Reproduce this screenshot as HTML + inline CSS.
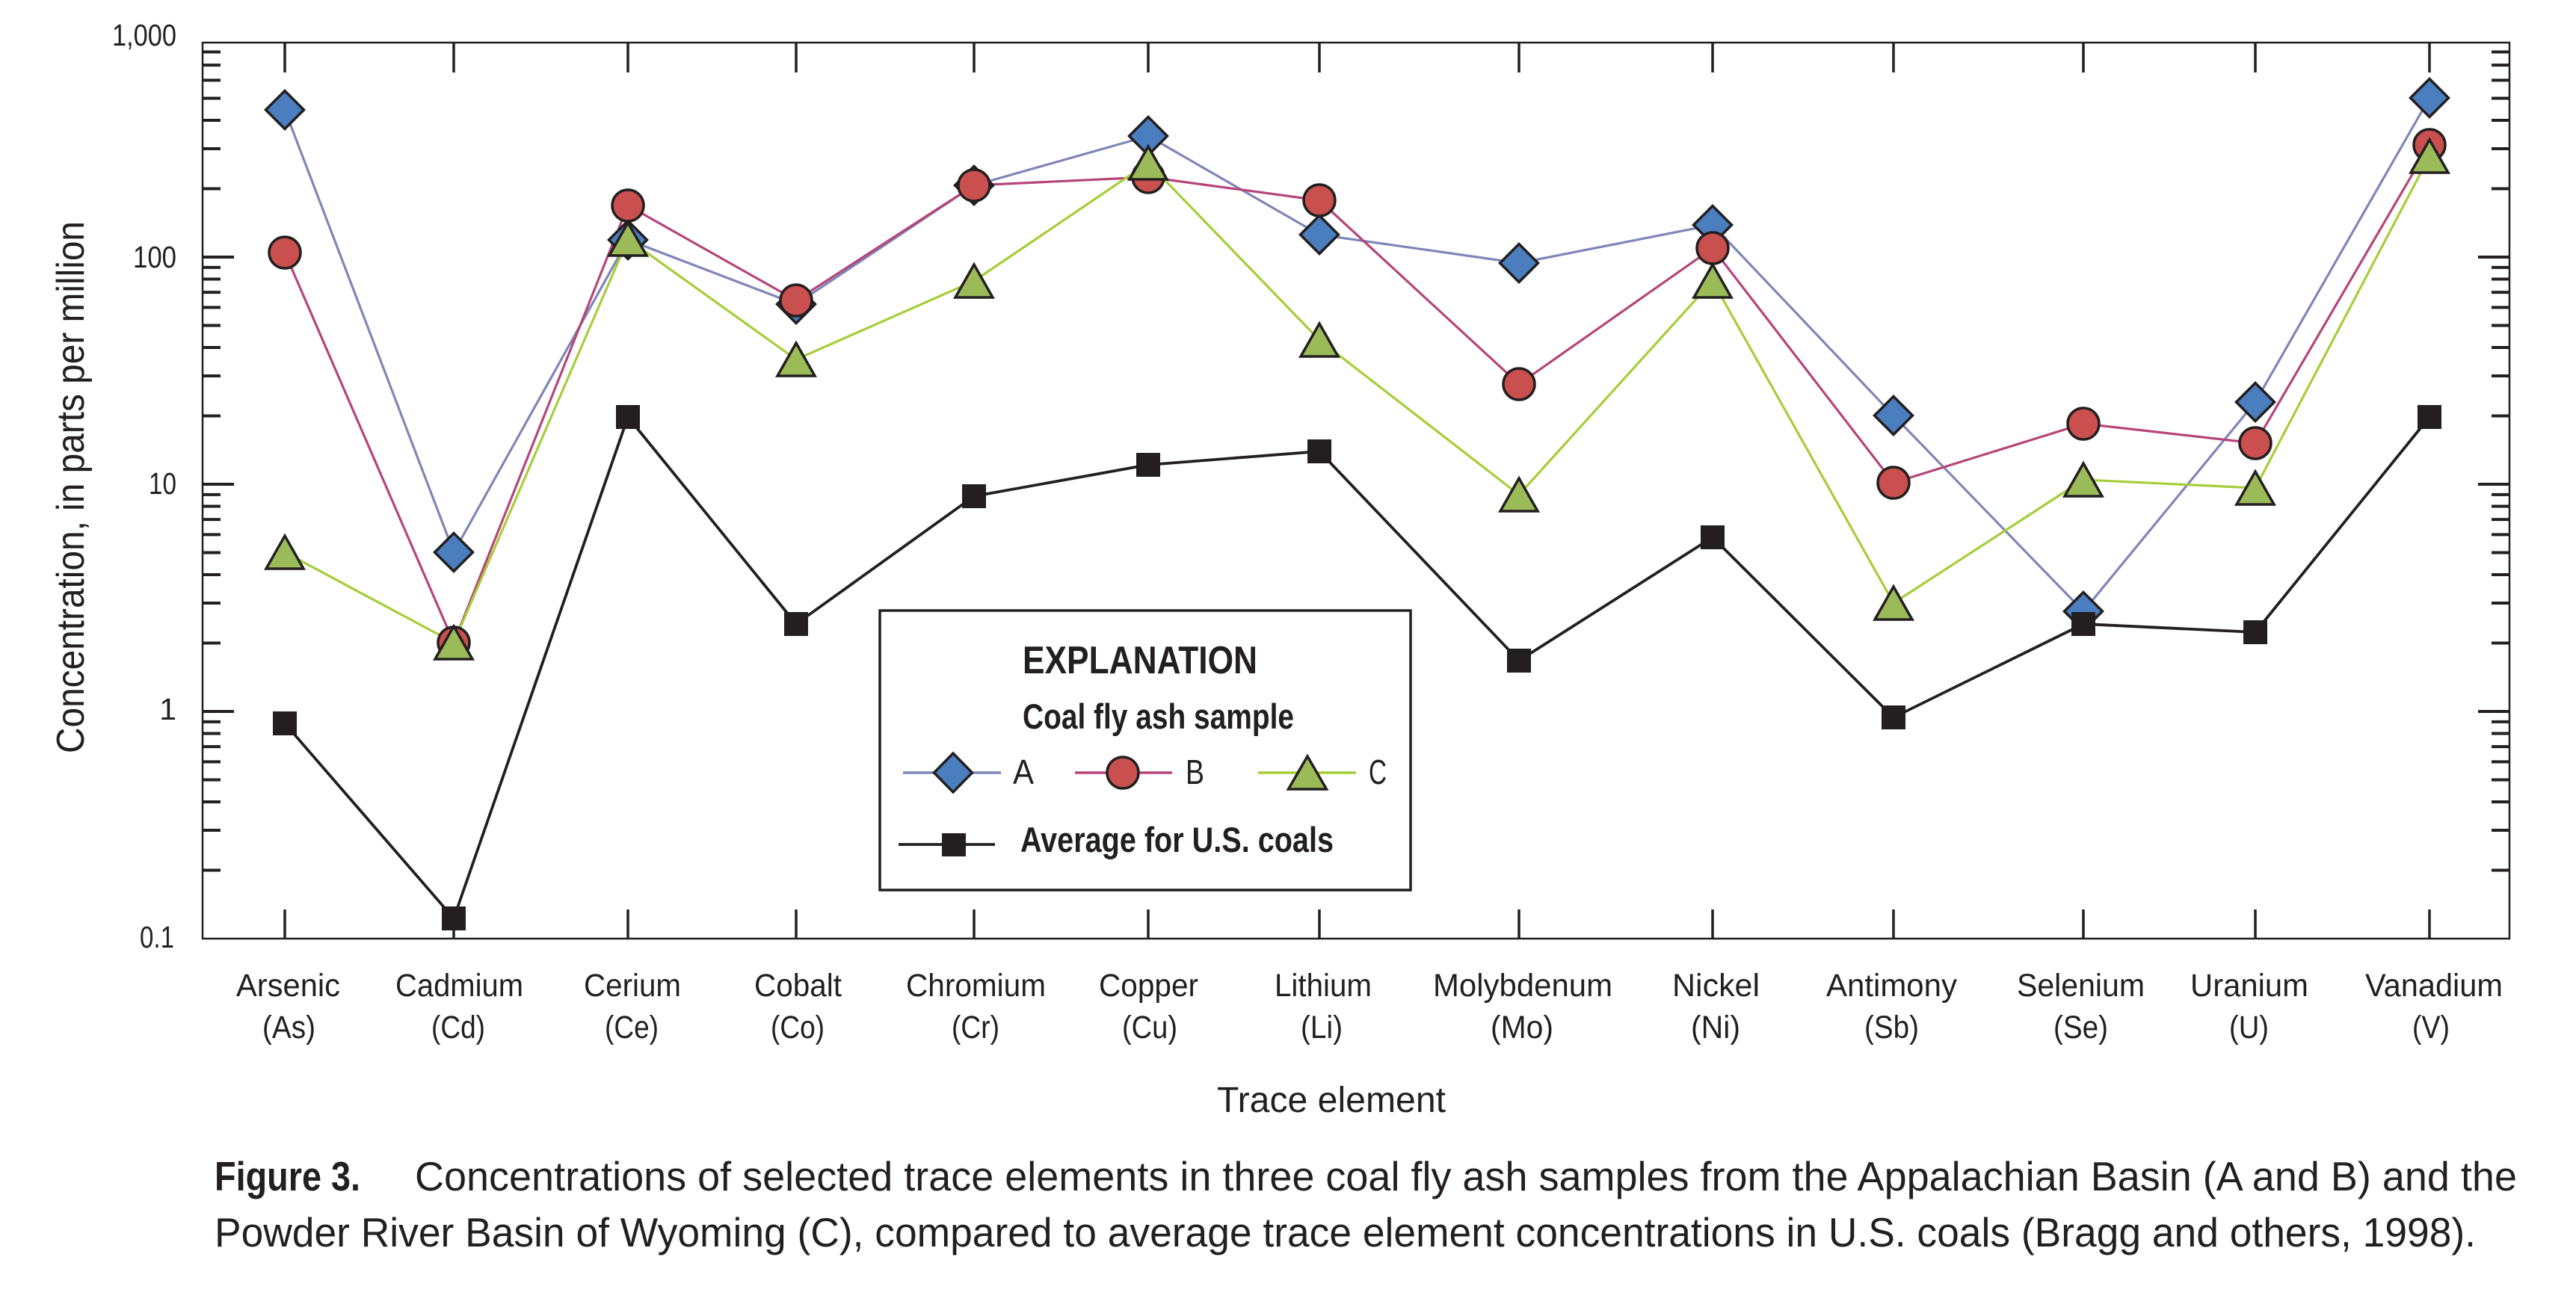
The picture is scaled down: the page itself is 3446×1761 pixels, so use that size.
<!DOCTYPE html>
<html>
<head>
<meta charset="utf-8">
<style>
  html, body { margin:0; padding:0; background:#ffffff; }
  body { width:3446px; height:1761px; overflow:hidden; }
  svg { display:block; }
  text { font-family: "Liberation Sans", Arial, sans-serif; fill:#231f20; }
</style>
</head>
<body>
<svg width="3446" height="1761" viewBox="0 0 3446 1761" xmlns="http://www.w3.org/2000/svg">
  <rect x="0" y="0" width="3446" height="1761" fill="#ffffff"/>

  <!-- Plot frame -->
  <rect x="271" y="57" width="3086" height="1199" fill="none" stroke="#231f20" stroke-width="2.5"/>

  <!-- Left axis ticks -->
  <g stroke="#231f20" stroke-width="4">
    <!-- major -->
    <line x1="271" y1="344" x2="313" y2="344"/>
    <line x1="271" y1="648" x2="313" y2="648"/>
    <line x1="271" y1="952" x2="313" y2="952"/>
    <!-- minor decade 0.1 -->
    <line x1="271" y1="1164.5" x2="295" y2="1164.5"/>
    <line x1="271" y1="1111" x2="295" y2="1111"/>
    <line x1="271" y1="1073" x2="295" y2="1073"/>
    <line x1="271" y1="1043.5" x2="295" y2="1043.5"/>
    <line x1="271" y1="1019.4" x2="295" y2="1019.4"/>
    <line x1="271" y1="999.1" x2="295" y2="999.1"/>
    <line x1="271" y1="981.5" x2="295" y2="981.5"/>
    <line x1="271" y1="965.9" x2="295" y2="965.9"/>
    <!-- minor decade 1 -->
    <line x1="271" y1="860.5" x2="295" y2="860.5"/>
    <line x1="271" y1="807" x2="295" y2="807"/>
    <line x1="271" y1="769" x2="295" y2="769"/>
    <line x1="271" y1="739.5" x2="295" y2="739.5"/>
    <line x1="271" y1="715.4" x2="295" y2="715.4"/>
    <line x1="271" y1="695.1" x2="295" y2="695.1"/>
    <line x1="271" y1="677.5" x2="295" y2="677.5"/>
    <line x1="271" y1="661.9" x2="295" y2="661.9"/>
    <!-- minor decade 10 -->
    <line x1="271" y1="556.5" x2="295" y2="556.5"/>
    <line x1="271" y1="503" x2="295" y2="503"/>
    <line x1="271" y1="465" x2="295" y2="465"/>
    <line x1="271" y1="435.5" x2="295" y2="435.5"/>
    <line x1="271" y1="411.4" x2="295" y2="411.4"/>
    <line x1="271" y1="391.1" x2="295" y2="391.1"/>
    <line x1="271" y1="373.5" x2="295" y2="373.5"/>
    <line x1="271" y1="357.9" x2="295" y2="357.9"/>
    <!-- minor decade 100 -->
    <line x1="271" y1="252.5" x2="295" y2="252.5"/>
    <line x1="271" y1="199" x2="295" y2="199"/>
    <line x1="271" y1="161" x2="295" y2="161"/>
    <line x1="271" y1="131.5" x2="295" y2="131.5"/>
    <line x1="271" y1="107.4" x2="295" y2="107.4"/>
    <line x1="271" y1="87.1" x2="295" y2="87.1"/>
    <line x1="271" y1="69.5" x2="295" y2="69.5"/>
  </g>

  <!-- Right axis ticks -->
  <g stroke="#231f20" stroke-width="4">
    <line x1="3357" y1="344" x2="3315" y2="344"/>
    <line x1="3357" y1="648" x2="3315" y2="648"/>
    <line x1="3357" y1="952" x2="3315" y2="952"/>
    <line x1="3357" y1="1164.5" x2="3333" y2="1164.5"/>
    <line x1="3357" y1="1111" x2="3333" y2="1111"/>
    <line x1="3357" y1="1073" x2="3333" y2="1073"/>
    <line x1="3357" y1="1043.5" x2="3333" y2="1043.5"/>
    <line x1="3357" y1="1019.4" x2="3333" y2="1019.4"/>
    <line x1="3357" y1="999.1" x2="3333" y2="999.1"/>
    <line x1="3357" y1="981.5" x2="3333" y2="981.5"/>
    <line x1="3357" y1="965.9" x2="3333" y2="965.9"/>
    <line x1="3357" y1="860.5" x2="3333" y2="860.5"/>
    <line x1="3357" y1="807" x2="3333" y2="807"/>
    <line x1="3357" y1="769" x2="3333" y2="769"/>
    <line x1="3357" y1="739.5" x2="3333" y2="739.5"/>
    <line x1="3357" y1="715.4" x2="3333" y2="715.4"/>
    <line x1="3357" y1="695.1" x2="3333" y2="695.1"/>
    <line x1="3357" y1="677.5" x2="3333" y2="677.5"/>
    <line x1="3357" y1="661.9" x2="3333" y2="661.9"/>
    <line x1="3357" y1="556.5" x2="3333" y2="556.5"/>
    <line x1="3357" y1="503" x2="3333" y2="503"/>
    <line x1="3357" y1="465" x2="3333" y2="465"/>
    <line x1="3357" y1="435.5" x2="3333" y2="435.5"/>
    <line x1="3357" y1="411.4" x2="3333" y2="411.4"/>
    <line x1="3357" y1="391.1" x2="3333" y2="391.1"/>
    <line x1="3357" y1="373.5" x2="3333" y2="373.5"/>
    <line x1="3357" y1="357.9" x2="3333" y2="357.9"/>
    <line x1="3357" y1="252.5" x2="3333" y2="252.5"/>
    <line x1="3357" y1="199" x2="3333" y2="199"/>
    <line x1="3357" y1="161" x2="3333" y2="161"/>
    <line x1="3357" y1="131.5" x2="3333" y2="131.5"/>
    <line x1="3357" y1="107.4" x2="3333" y2="107.4"/>
    <line x1="3357" y1="87.1" x2="3333" y2="87.1"/>
    <line x1="3357" y1="69.5" x2="3333" y2="69.5"/>
  </g>

  <!-- Category ticks top and bottom -->
  <g stroke="#231f20" stroke-width="3.5">
    <line x1="381" y1="57" x2="381" y2="97"/><line x1="381" y1="1256" x2="381" y2="1217"/>
    <line x1="607" y1="57" x2="607" y2="97"/><line x1="607" y1="1256" x2="607" y2="1217"/>
    <line x1="840" y1="57" x2="840" y2="97"/><line x1="840" y1="1256" x2="840" y2="1217"/>
    <line x1="1065" y1="57" x2="1065" y2="97"/><line x1="1065" y1="1256" x2="1065" y2="1217"/>
    <line x1="1303" y1="57" x2="1303" y2="97"/><line x1="1303" y1="1256" x2="1303" y2="1217"/>
    <line x1="1536" y1="57" x2="1536" y2="97"/><line x1="1536" y1="1256" x2="1536" y2="1217"/>
    <line x1="1765" y1="57" x2="1765" y2="97"/><line x1="1765" y1="1256" x2="1765" y2="1217"/>
    <line x1="2032" y1="57" x2="2032" y2="97"/><line x1="2032" y1="1256" x2="2032" y2="1217"/>
    <line x1="2291" y1="57" x2="2291" y2="97"/><line x1="2291" y1="1256" x2="2291" y2="1217"/>
    <line x1="2533" y1="57" x2="2533" y2="97"/><line x1="2533" y1="1256" x2="2533" y2="1217"/>
    <line x1="2787" y1="57" x2="2787" y2="97"/><line x1="2787" y1="1256" x2="2787" y2="1217"/>
    <line x1="3017" y1="57" x2="3017" y2="97"/><line x1="3017" y1="1256" x2="3017" y2="1217"/>
    <line x1="3250" y1="57" x2="3250" y2="97"/><line x1="3250" y1="1256" x2="3250" y2="1217"/>
  </g>

  <!-- Y tick labels -->
  <g font-size="41" text-anchor="end">
    <text x="236" y="61" textLength="86" lengthAdjust="spacingAndGlyphs">1,000</text>
    <text x="236" y="358" textLength="58" lengthAdjust="spacingAndGlyphs">100</text>
    <text x="236" y="661" textLength="37" lengthAdjust="spacingAndGlyphs">10</text>
    <text x="236" y="963">1</text>
    <text x="233" y="1268" textLength="46" lengthAdjust="spacingAndGlyphs">0.1</text>
  </g>

  <!-- Y axis title -->
  <text transform="translate(112,652) rotate(-90)" font-size="52" text-anchor="middle" textLength="712" lengthAdjust="spacingAndGlyphs">Concentration, in parts per million</text>

  <!-- Category labels -->
  <g font-size="43">
    <text x="316" y="1333" textLength="139" lengthAdjust="spacingAndGlyphs">Arsenic</text>
    <text x="351" y="1389" textLength="71" lengthAdjust="spacingAndGlyphs">(As)</text>
    <text x="529" y="1333" textLength="171" lengthAdjust="spacingAndGlyphs">Cadmium</text>
    <text x="577" y="1389" textLength="72" lengthAdjust="spacingAndGlyphs">(Cd)</text>
    <text x="781" y="1333" textLength="130" lengthAdjust="spacingAndGlyphs">Cerium</text>
    <text x="809" y="1389" textLength="72" lengthAdjust="spacingAndGlyphs">(Ce)</text>
    <text x="1009" y="1333" textLength="117" lengthAdjust="spacingAndGlyphs">Cobalt</text>
    <text x="1031" y="1389" textLength="72" lengthAdjust="spacingAndGlyphs">(Co)</text>
    <text x="1212" y="1333" textLength="187" lengthAdjust="spacingAndGlyphs">Chromium</text>
    <text x="1273" y="1389" textLength="64" lengthAdjust="spacingAndGlyphs">(Cr)</text>
    <text x="1470" y="1333" textLength="133" lengthAdjust="spacingAndGlyphs">Copper</text>
    <text x="1501" y="1389" textLength="74" lengthAdjust="spacingAndGlyphs">(Cu)</text>
    <text x="1705" y="1333" textLength="130" lengthAdjust="spacingAndGlyphs">Lithium</text>
    <text x="1740" y="1389" textLength="56" lengthAdjust="spacingAndGlyphs">(Li)</text>
    <text x="1917" y="1333" textLength="240" lengthAdjust="spacingAndGlyphs">Molybdenum</text>
    <text x="1994" y="1389" textLength="84" lengthAdjust="spacingAndGlyphs">(Mo)</text>
    <text x="2237" y="1333" textLength="117" lengthAdjust="spacingAndGlyphs">Nickel</text>
    <text x="2262" y="1389" textLength="66" lengthAdjust="spacingAndGlyphs">(Ni)</text>
    <text x="2443" y="1333" textLength="175" lengthAdjust="spacingAndGlyphs">Antimony</text>
    <text x="2494" y="1389" textLength="73" lengthAdjust="spacingAndGlyphs">(Sb)</text>
    <text x="2698" y="1333" textLength="171" lengthAdjust="spacingAndGlyphs">Selenium</text>
    <text x="2747" y="1389" textLength="73" lengthAdjust="spacingAndGlyphs">(Se)</text>
    <text x="2930" y="1333" textLength="158" lengthAdjust="spacingAndGlyphs">Uranium</text>
    <text x="2982" y="1389" textLength="53" lengthAdjust="spacingAndGlyphs">(U)</text>
    <text x="3164" y="1333" textLength="184" lengthAdjust="spacingAndGlyphs">Vanadium</text>
    <text x="3227" y="1389" textLength="50" lengthAdjust="spacingAndGlyphs">(V)</text>
  </g>

  <!-- X axis title -->
  <text x="1628" y="1488" font-size="48" textLength="306" lengthAdjust="spacingAndGlyphs">Trace element</text>

  <!-- Series lines -->
  <g fill="none" stroke-width="3.2" stroke-linejoin="round">
    <polyline stroke="#7f86b8" points="381,147 607,739 840,321 1065,407 1303,248 1536,182 1765,314 2032,352 2291,301 2533,556 2787,818 3017,538 3250,131"/>
    <polyline stroke="#b5457a" points="381,338 607,860 840,275 1065,402 1303,248 1536,237 1765,268 2032,514 2291,332 2533,646 2787,567 3017,593 3250,194"/>
    <polyline stroke="#a6ce39" points="381,739 607,860 840,320 1065,481 1303,376 1536,218 1765,455 2032,662 2291,376 2533,807 2787,642 3017,653 3250,209"/>
    <polyline stroke="#231f20" stroke-width="3.8" points="381,968 607,1229 840,558 1065,835 1303,664 1536,622 1765,604 2032,884 2291,719 2533,960 2787,835 3017,846 3250,558"/>
  </g>

  <!-- Legend box (drawn before markers? markers do not overlap it) -->
  <rect x="1177" y="817" width="710" height="374" fill="#ffffff" stroke="#231f20" stroke-width="3.5"/>

  <!-- Markers A (diamonds) -->
  <g fill="#4a7ebf" stroke="#231f20" stroke-width="3.5" stroke-linejoin="miter">
    <polygon points="381,121.5 406.5,147 381,172.5 355.5,147"/>
    <polygon points="607,713.5 632.5,739 607,764.5 581.5,739"/>
    <polygon points="840,295.5 865.5,321 840,346.5 814.5,321"/>
    <polygon points="1065,381.5 1090.5,407 1065,432.5 1039.5,407"/>
    <polygon points="1303,222.5 1328.5,248 1303,273.5 1277.5,248"/>
    <polygon points="1536,156.5 1561.5,182 1536,207.5 1510.5,182"/>
    <polygon points="1765,288.5 1790.5,314 1765,339.5 1739.5,314"/>
    <polygon points="2032,326.5 2057.5,352 2032,377.5 2006.5,352"/>
    <polygon points="2291,275.5 2316.5,301 2291,326.5 2265.5,301"/>
    <polygon points="2533,530.5 2558.5,556 2533,581.5 2507.5,556"/>
    <polygon points="2787,792.5 2812.5,818 2787,843.5 2761.5,818"/>
    <polygon points="3017,512.5 3042.5,538 3017,563.5 2991.5,538"/>
    <polygon points="3250,105.5 3275.5,131 3250,156.5 3224.5,131"/>
  </g>

  <!-- Markers B (circles) -->
  <g fill="#c9504e" stroke="#231f20" stroke-width="3.5">
    <circle cx="381" cy="338" r="21"/>
    <circle cx="607" cy="860" r="21"/>
    <circle cx="840" cy="275" r="21"/>
    <circle cx="1065" cy="402" r="21"/>
    <circle cx="1303" cy="248" r="21"/>
    <circle cx="1536" cy="237" r="21"/>
    <circle cx="1765" cy="268" r="21"/>
    <circle cx="2032" cy="514" r="21"/>
    <circle cx="2291" cy="332" r="21"/>
    <circle cx="2533" cy="646" r="21"/>
    <circle cx="2787" cy="567" r="21"/>
    <circle cx="3017" cy="593" r="21"/>
    <circle cx="3250" cy="194" r="21"/>
  </g>

  <!-- Markers C (triangles) -->
  <g fill="#9bbb59" stroke="#231f20" stroke-width="3.5" stroke-linejoin="miter">
    <polygon points="381,717 406,761 356,761"/>
    <polygon points="607,838 632,882 582,882"/>
    <polygon points="840,298 865,342 815,342"/>
    <polygon points="1065,459 1090,503 1040,503"/>
    <polygon points="1303,354 1328,398 1278,398"/>
    <polygon points="1536,196 1561,240 1511,240"/>
    <polygon points="1765,433 1790,477 1740,477"/>
    <polygon points="2032,640 2057,684 2007,684"/>
    <polygon points="2291,354 2316,398 2266,398"/>
    <polygon points="2533,785 2558,829 2508,829"/>
    <polygon points="2787,620 2812,664 2762,664"/>
    <polygon points="3017,631 3042,675 2992,675"/>
    <polygon points="3250,187 3275,231 3225,231"/>
  </g>

  <!-- Markers Average (squares) -->
  <g fill="#231f20">
    <rect x="365" y="952" width="32" height="32"/>
    <rect x="591" y="1213" width="32" height="32"/>
    <rect x="824" y="542" width="32" height="32"/>
    <rect x="1049" y="819" width="32" height="32"/>
    <rect x="1287" y="648" width="32" height="32"/>
    <rect x="1520" y="606" width="32" height="32"/>
    <rect x="1749" y="588" width="32" height="32"/>
    <rect x="2016" y="868" width="32" height="32"/>
    <rect x="2275" y="703" width="32" height="32"/>
    <rect x="2517" y="944" width="32" height="32"/>
    <rect x="2771" y="819" width="32" height="32"/>
    <rect x="3001" y="830" width="32" height="32"/>
    <rect x="3234" y="542" width="32" height="32"/>
  </g>

  <!-- Legend content -->
  <text x="1368" y="901" font-size="52" font-weight="bold" textLength="314" lengthAdjust="spacingAndGlyphs">EXPLANATION</text>
  <text x="1368" y="975" font-size="47" font-weight="bold" textLength="363" lengthAdjust="spacingAndGlyphs">Coal fly ash sample</text>

  <line x1="1208" y1="1034" x2="1339" y2="1034" stroke="#7f86b8" stroke-width="3.5"/>
  <polygon points="1275,1008 1300.5,1034 1275,1060 1249.5,1034" fill="#4a7ebf" stroke="#231f20" stroke-width="3.5"/>
  <text x="1355" y="1049" font-size="46" textLength="28" lengthAdjust="spacingAndGlyphs">A</text>

  <line x1="1438" y1="1034" x2="1568" y2="1034" stroke="#b5457a" stroke-width="3.5"/>
  <circle cx="1502" cy="1034" r="21" fill="#c9504e" stroke="#231f20" stroke-width="3.5"/>
  <text x="1586" y="1049" font-size="46" textLength="25" lengthAdjust="spacingAndGlyphs">B</text>

  <line x1="1683" y1="1034" x2="1814" y2="1034" stroke="#a6ce39" stroke-width="3.5"/>
  <polygon points="1749,1012 1774.5,1056 1723.5,1056" fill="#9bbb59" stroke="#231f20" stroke-width="3.5"/>
  <text x="1831" y="1049" font-size="46" textLength="24" lengthAdjust="spacingAndGlyphs">C</text>

  <line x1="1202" y1="1130" x2="1331" y2="1130" stroke="#231f20" stroke-width="3.8"/>
  <rect x="1260" y="1115" width="32" height="31" fill="#231f20"/>
  <text x="1365" y="1140" font-size="47" font-weight="bold" textLength="419" lengthAdjust="spacingAndGlyphs">Average for U.S. coals</text>

  <!-- Caption -->
  <text x="287" y="1593" font-size="55" font-weight="bold" textLength="195" lengthAdjust="spacingAndGlyphs">Figure 3.</text>
  <text x="555" y="1593" font-size="55" textLength="2812" lengthAdjust="spacingAndGlyphs">Concentrations of selected trace elements in three coal fly ash samples from the Appalachian Basin (A and B) and the</text>
  <text x="287" y="1668" font-size="55" textLength="3025" lengthAdjust="spacingAndGlyphs">Powder River Basin of Wyoming (C), compared to average trace element concentrations in U.S. coals (Bragg and others, 1998).</text>
</svg>
</body>
</html>
